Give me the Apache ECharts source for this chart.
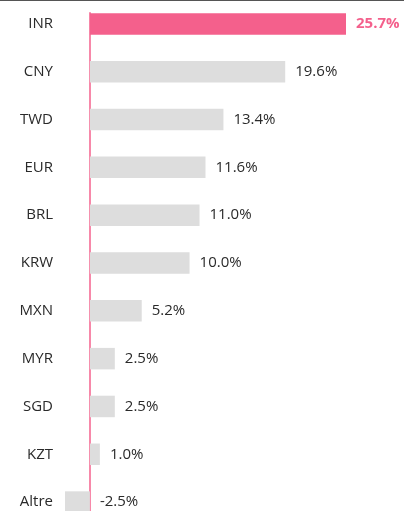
<!DOCTYPE html>
<html>
<head>
<meta charset="utf-8">
<script src="https://cdn.jsdelivr.net/npm/echarts@6/dist/echarts.min.js"></script>
<style>
html,body{margin:0;padding:0;background:#fff;overflow:hidden;width:404px;height:511px;}
#topline{position:absolute;left:0;top:0;width:404px;height:0;border-top:1px solid #555;z-index:2;}
#chart{width:404px;height:526px;}
</style>
</head>
<body>
<div id="topline"></div>
<div id="chart"></div>
<script>
const categories = ['INR','CNY','TWD','EUR','BRL','KRW','MXN','MYR','SGD','KZT','Altre'];
const values = [25.7, 19.6, 13.4, 11.6, 11.0, 10.0, 5.2, 2.5, 2.5, 1.0, -2.5];
const highlight = 'INR';

const PINK = '#f4608c';
const GRAY = '#dddddd';
const TEXT = '#2a2a2a';
const FONT = '"Open Sans", "Noto Sans", sans-serif';

const chart = echarts.init(document.getElementById('chart'));
const seriesData = categories.map((c, i) => {
  const hi = c === highlight;
  return {
    value: values[i],
    itemStyle: { color: hi ? PINK : GRAY },
    label: hi ? { color: PINK, fontWeight: 'bold' } : {}
  };
});

chart.setOption({
  animation: false,
  grid: [
    { left: 65, right: 58, top: 0, bottom: 0 },
    { left: 65, right: 58, top: 12.7, bottom: 0 }
  ],
  xAxis: [
    { gridIndex: 0, type: 'value', min: -2.5, max: 25.7, show: false },
    { gridIndex: 1, type: 'value', min: -2.5, max: 25.7, show: false }
  ],
  yAxis: [
    {
      gridIndex: 0, type: 'category', data: categories, inverse: true,
      axisLine: { show: false, onZero: false }, axisTick: { show: false },
      splitLine: { show: false },
      axisLabel: { margin: 12, color: TEXT, fontSize: 15, fontFamily: FONT }
    },
    {
      gridIndex: 1, type: 'value', min: 0, max: 1,
      axisLine: { show: true, onZero: true, lineStyle: { color: PINK, width: 1.5 } },
      axisTick: { show: false }, axisLabel: { show: false }, splitLine: { show: false }
    }
  ],
  series: [{
    type: 'bar',
    xAxisIndex: 0, yAxisIndex: 0,
    data: seriesData,
    barWidth: 21.5,
    label: {
      show: true, position: 'right', distance: 10,
      color: TEXT, fontSize: 15, fontFamily: FONT,
      formatter: p => p.value.toFixed(1) + '%'
    }
  }]
});
</script>
</body>
</html>
